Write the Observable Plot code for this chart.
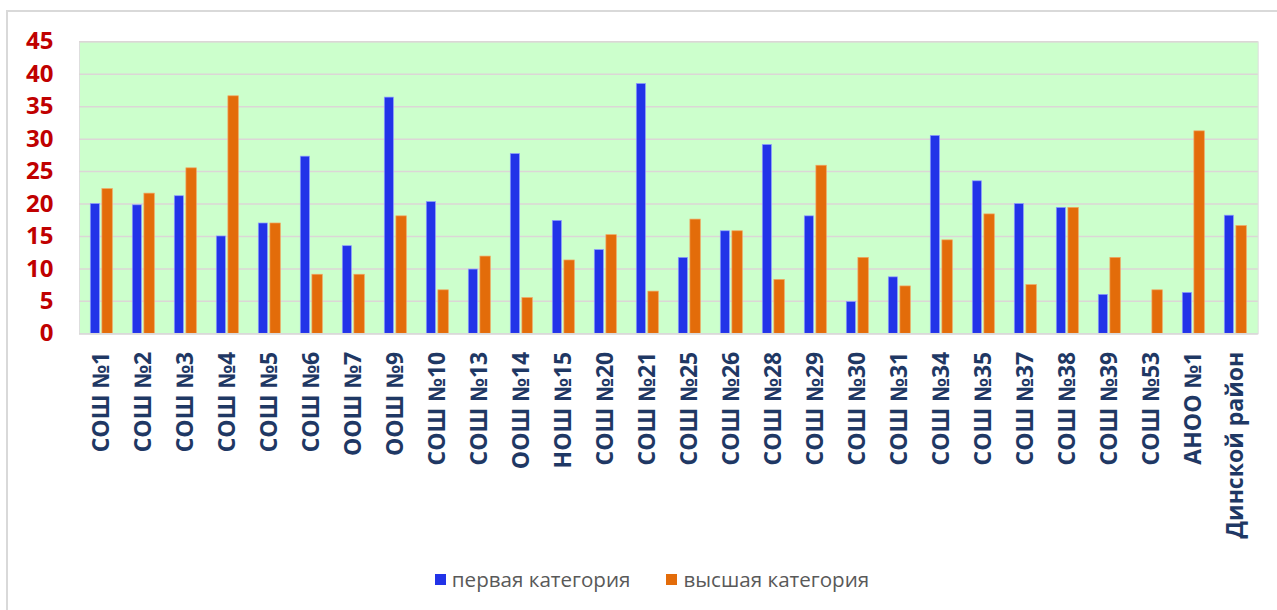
<!DOCTYPE html>
<html>
<head>
<meta charset="utf-8">
<script src="https://cdn.jsdelivr.net/npm/d3@7"></script>
<script src="https://cdn.jsdelivr.net/npm/@observablehq/plot@0.6"></script>
<style>
  html, body { margin: 0; padding: 0; background: #fff; width: 1277px; height: 610px; overflow: hidden; }
  body { position: relative; font-family: "Open Sans", sans-serif; }
  #frame { position: absolute; left: 6px; top: 10px; width: 1300px; height: 620px;
           border-top: 2px solid #d9d9d9; border-left: 2px solid #d9d9d9; box-sizing: border-box; }
  #chart { position: absolute; left: 0; top: 0; }
  #legend { position: absolute; left: 0; top: 566px; width: 1304px; height: 26px;
            display: flex; justify-content: center; align-items: center;
            font-family: "Open Sans", sans-serif; font-size: 20.6px; color: #595959; }
  .item { display: flex; align-items: center; }
  .item + .item { margin-left: 36px; }
  .sw { width: 11px; height: 11px; margin-right: 6px; }
</style>
</head>
<body>
<div id="frame"></div>
<div id="chart"></div>
<div id="legend"></div>
<script>
const categories = ["СОШ №1","СОШ №2","СОШ №3","СОШ №4","СОШ №5","СОШ №6","ООШ №7","ООШ №9","СОШ №10","СОШ №13","ООШ №14","НОШ №15","СОШ №20","СОШ №21","СОШ №25","СОШ №26","СОШ №28","СОШ №29","СОШ №30","СОШ №31","СОШ №34","СОШ №35","СОШ №37","СОШ №38","СОШ №39","СОШ №53","АНОО №1","Динской район"];
const firstCategory = [20.0,19.8,21.2,15.0,17.0,27.3,13.5,36.4,20.3,9.9,27.7,17.4,12.9,38.5,11.7,15.8,29.1,18.1,4.9,8.7,30.5,23.5,20.0,19.4,6.0,0,6.3,18.2];
const highestCategory = [22.3,21.6,25.5,36.6,17.0,9.1,9.1,18.1,6.7,11.9,5.5,11.3,15.2,6.5,17.6,15.8,8.3,25.9,11.7,7.3,14.4,18.4,7.5,19.4,11.7,6.7,31.2,16.6];
const seriesNames = ["первая категория", "высшая категория"];
const seriesColors = ["#2233e8", "#e36c0a"];
const yTicks = [0,5,10,15,20,25,30,35,40,45];

const rows = categories.map((c, i) => ({cat: c, first: firstCategory[i], high: highestCategory[i]}));

const chart = Plot.plot({
  width: 1277,
  height: 555,
  marginLeft: 79,
  marginRight: 19.3,
  marginTop: 41.3,
  marginBottom: 221.7,
  style: {fontFamily: "'Open Sans', sans-serif", background: "transparent"},
  x: {type: "band", domain: categories, padding: 0},
  y: {domain: [0, 45]},
  marks: [
    Plot.frame({fill: "#ccffcc", stroke: "#dedede", strokeWidth: 1}),
    Plot.gridY(yTicks, {stroke: "#dcd6d6", strokeOpacity: 1, strokeWidth: 1.5}),
    Plot.barY(rows.filter(d => d.first > 0), {x: "cat", y: "first", fill: seriesColors[0],
      stroke: "#8f9cff", strokeWidth: 0.7, insetLeft: 10.3, insetRight: 22.6}),
    Plot.barY(rows.filter(d => d.high > 0), {x: "cat", y: "high", fill: seriesColors[1],
      stroke: "#f2a461", strokeWidth: 0.7, insetLeft: 21.9, insetRight: 9.7}),
    Plot.ruleY([0], {stroke: "#d9d9d9", strokeWidth: 1.5}),
    Plot.axisY({ticks: yTicks, tickSize: 0, tickPadding: 26, fontSize: 24, fontWeight: "bold",
      fill: "#c00000", label: null}),
    Plot.axisX({tickSize: 0, tickPadding: 18, tickRotate: -90, fontSize: 23, fontWeight: "bold",
      fill: "#1f3864", label: null})
  ]
});
document.getElementById("chart").appendChild(chart);

const legend = document.getElementById("legend");
seriesNames.forEach((name, i) => {
  const item = document.createElement("div");
  item.className = "item";
  const sw = document.createElement("div");
  sw.className = "sw";
  sw.style.background = seriesColors[i];
  const label = document.createElement("span");
  label.textContent = name;
  item.appendChild(sw);
  item.appendChild(label);
  legend.appendChild(item);
});
</script>
</body>
</html>
